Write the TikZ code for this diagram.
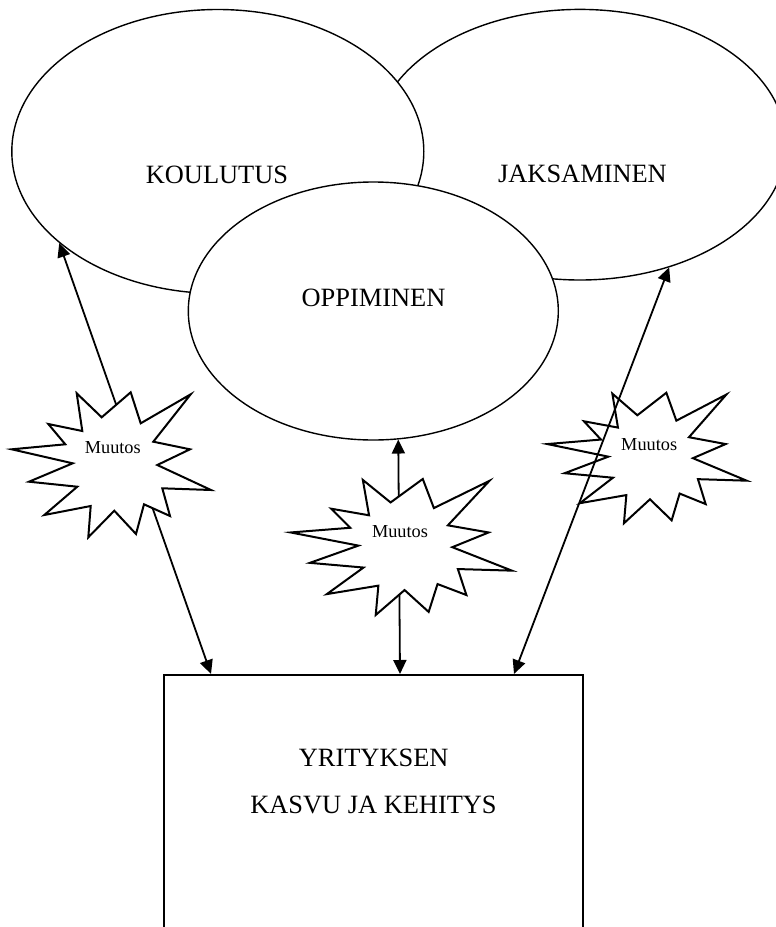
\documentclass[tikz,border=0pt]{standalone}
\usepackage{fontspec}
\setmainfont{Liberation Serif}
\usetikzlibrary{shapes.geometric,arrows.meta,calc}

\tikzset{
  bubble/.style={ellipse, draw, fill=white, line width=1.4pt, inner sep=0pt},
  bigtext/.style={font=\fontsize{26.4}{30}\selectfont, inner sep=0pt, anchor=base},
  smalltext/.style={font=\fontsize{18.3}{22}\selectfont, inner sep=0pt, anchor=base},
  burst/.style={draw, fill=white, line width=2pt, line join=miter},
  twohead/.style={line width=1.8pt,
    {Triangle[length=14pt,width=13pt]}-{Triangle[length=14pt,width=13pt]}},
  panel/.style={rectangle, draw, line width=2.2pt, inner sep=0pt}
}

% explosion outline centred at (#1,#2), scaled by #3 horizontally and #4 vertically
\newcommand\muutosburst[4]{%
  \begin{scope}[shift={(#1,#2)}, xscale=#3, yscale=#4]
    \draw[burst] (-34.65,-71.5) -- (-9.65,-47.5) -- (19.35,-72.5) -- (29.35,-41.5)
      -- (79.35,-70.5) -- (41.95,-23.1) -- (78.65,-15.5) -- (45.95,0.2)
      -- (99.65,25.2) -- (50.95,23.5) -- (58.65,51.2) -- (32.65,39.5)
      -- (24.65,69.2) -- (2.95,45.9) -- (-23.05,72.5) -- (-20.65,41.2)
      -- (-67.05,50.2) -- (-34.05,21.9) -- (-82.35,16.9) -- (-38.65,-1.5)
      -- (-99.65,-15.5) -- (-46.05,-20.5) -- (-63.05,-40.8) -- (-29.05,-33.8)
      -- cycle;
  \end{scope}}

\begin{document}
\begin{tikzpicture}[x=1pt,y=-1pt]
  \useasboundingbox (0,0) rectangle (776,927);
  \begin{scope}
    \clip (0,0) rectangle (776,927);
    \fill[white] (0,0) rectangle (776,927);

    % the three overlapping themes
    \node[bubble, minimum width=412pt, minimum height=270.6pt] (jaks) at (580,144.7) {};
    \node[bubble, minimum width=412pt, minimum height=284pt] (koul) at (217.8,151.5) {};
    \node[bubble, minimum width=370pt, minimum height=258pt] (oppi) at (373.3,311) {};

    \node[bigtext] (koulT) at (217,183) {KOULUTUS};
    \node[bigtext] (jaksT) at (582.5,182) {JAKSAMINEN};
    \node[bigtext] (oppiT) at (373.5,306.7) {OPPIMINEN};

    % company box, running off the bottom edge
    \node[panel, minimum width=419pt, minimum height=300pt, anchor=north] (box) at (373.5,674) {};
    \node[bigtext] (boxA) at (373.7,766) {YRITYKSEN};
    \node[bigtext] (boxB) at (373.5,813.3) {KASVU JA KEHITYS};

    \coordinate (inL) at ($(box.north)+(-162.5,0)$);
    \coordinate (inM) at ($(box.north)+(26.5,0)$);
    \coordinate (inR) at ($(box.north)+(140.5,0)$);

    % connectors hidden behind the left and middle bursts
    \draw[twohead] (inL) -- (koul.210.7);
    \draw[twohead] (inM) -- (oppi.281.8);

    \muutosburst{111.35}{464.8}{1}{1}
    \muutosburst{401.3}{547}{1.11}{0.938}
    \muutosburst{647}{458}{1}{0.90}

    % right connector runs over its burst
    \draw[twohead] (inR) -- (jaks.306.8);

    \node[smalltext] (muutosL) at (112.8,453.3) {Muutos};
    \node[smalltext] (muutosM) at (400,537.3) {Muutos};
    \node[smalltext] (muutosR) at (649.2,450.7) {Muutos};
  \end{scope}
\end{tikzpicture}
\end{document}
